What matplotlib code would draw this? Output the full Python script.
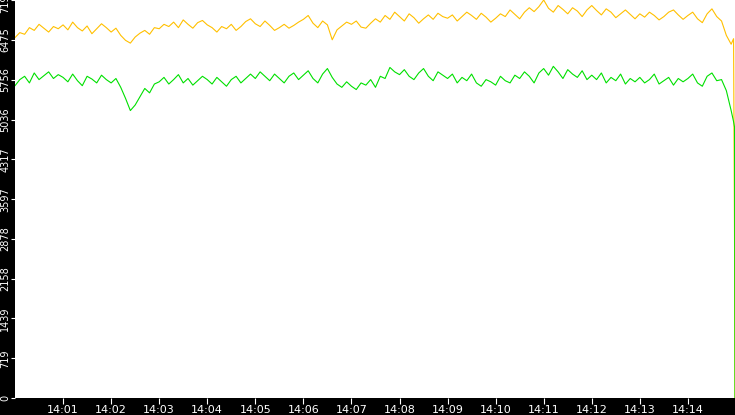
import numpy as np
import matplotlib.pyplot as plt

# minutes after 14:00, one sample every 0.1 min
orange = [
    6520, 6610, 6580, 6700, 6650, 6760, 6690, 6620, 6720, 6680,
    6750, 6660, 6800, 6700, 6640, 6730, 6590, 6680, 6770, 6700,
    6620, 6690, 6560, 6470, 6420, 6530, 6600, 6650, 6580, 6700,
    6680, 6760, 6720, 6800, 6700, 6840, 6760, 6690, 6790, 6830,
    6750, 6700, 6620, 6720, 6680, 6760, 6650, 6720, 6810, 6860,
    6770, 6720, 6820, 6740, 6650, 6700, 6760, 6690, 6740, 6800,
    6850, 6920, 6780, 6700, 6820, 6750, 6480, 6660, 6730, 6800,
    6760, 6820, 6710, 6690, 6780, 6860, 6800, 6920, 6850, 6980,
    6900, 6820, 6950, 6880, 6780, 6860, 6930, 6850, 6960, 6900,
    6870, 6930, 6820, 6900, 6980, 6920, 6850, 6960, 6890, 6800,
    6870, 6950, 6900, 7020, 6940, 6860, 6980, 7060, 6990, 7080,
    7200, 7050, 6980, 7100, 7030, 6950, 7060, 7000, 6900, 7020,
    7100, 7010, 6930, 7040, 6980, 6880, 6950, 7020, 6940, 6860,
    6950, 6890, 6980, 6920, 6840, 6900, 6980, 7020, 6930, 6850,
    6920, 6980, 6860, 6790, 6950, 7040, 6900, 6820, 6560, 6400,
]
green = [
    5650, 5760, 5820, 5700, 5880, 5760, 5830, 5900, 5780, 5850,
    5800, 5720, 5860, 5740, 5650, 5820, 5770, 5700, 5840, 5760,
    5700, 5780, 5620, 5420, 5200, 5300, 5450, 5600, 5520, 5680,
    5720, 5800, 5680, 5760, 5850, 5700, 5780, 5660, 5740, 5820,
    5760, 5680, 5800, 5720, 5640, 5760, 5820, 5700, 5780, 5860,
    5780, 5900, 5820, 5740, 5860, 5780, 5700, 5820, 5880, 5760,
    5840, 5920, 5780, 5700, 5860, 5960, 5800, 5680, 5620, 5720,
    5640, 5580, 5700, 5660, 5760, 5620, 5820, 5780, 5980, 5900,
    5850, 5940, 5820, 5760, 5880, 5960, 5820, 5740, 5900, 5840,
    5780, 5860, 5700, 5800, 5740, 5860, 5700, 5640, 5760, 5720,
    5660, 5820, 5740, 5700, 5840, 5780, 5900, 5820, 5700, 5880,
    5960, 5840, 6000, 5900, 5780, 5940, 5860, 5800, 5920, 5760,
    5840, 5760, 5880, 5700, 5800, 5740, 5860, 5680, 5780, 5720,
    5800, 5700, 5760, 5860, 5680, 5740, 5800, 5660, 5780, 5720,
    5780, 5860, 5700, 5640, 5820, 5880, 5740, 5760, 5560, 5200,
]
tail_t = [14.95, 14.97, 14.98]
orange_tail = [6500, 2900, 0]
green_tail = [5000, 4900, 0]

yticks = [0, 719, 1439, 2158, 2878, 3597, 4317, 5036, 5756, 6475, 7195]
xtick_labels = ['14:01', '14:02', '14:03', '14:04', '14:05', '14:06', '14:07',
                '14:08', '14:09', '14:10', '14:11', '14:12', '14:13', '14:14']

t = list(np.arange(len(orange)) * 0.1) + tail_t
o = orange + orange_tail
g = green + green_tail

fig = plt.figure(figsize=(7.35, 4.15), dpi=100, facecolor='black')
ax = fig.add_axes([15 / 735, 17 / 415, 720 / 735, 398 / 415])
ax.set_facecolor('white')
ax.plot(t, o, color='#ffc000', lw=0.8)
ax.plot(t, g, color='#00e000', lw=0.8)
ax.set_xlim(0, 14.98)
ax.set_ylim(0, 7200)
ax.set_yticks(yticks)
ax.set_yticklabels([str(v) for v in yticks], rotation=90, va='center')
ax.set_xticks(range(1, 15))
ax.set_xticklabels(xtick_labels)
ax.tick_params(axis='x', colors='white', labelsize=8, length=4, pad=1)
ax.tick_params(axis='y', colors='white', labelsize=7, length=3, pad=0.5)
for s in ax.spines.values():
    s.set_visible(False)

plt.savefig('out.png', dpi=100, facecolor='black')
